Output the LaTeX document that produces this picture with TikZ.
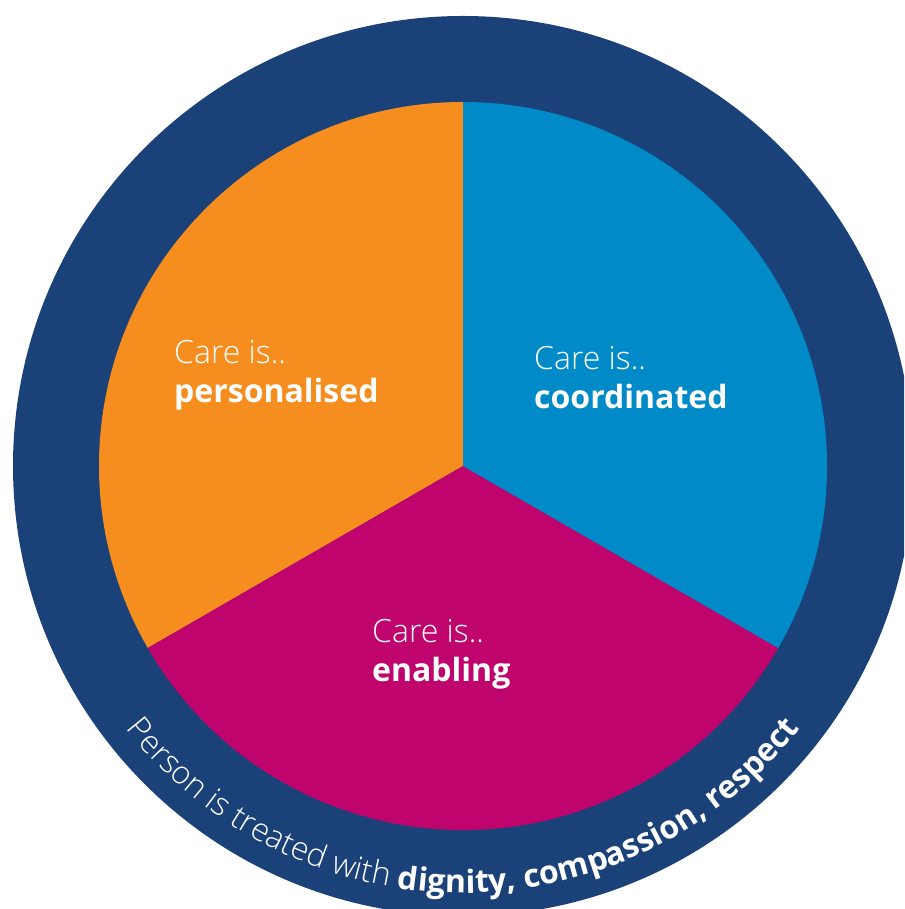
\documentclass[tikz,border=0pt]{standalone}
\usepackage{fontspec}
\setmainfont{Open Sans}
\IfFontExistsTF{Open Sans Light}{\newfontfamily\lightfont{Open Sans Light}}{\newfontfamily\lightfont{Open Sans}}
\usetikzlibrary{calc,math,decorations.text}

\definecolor{bandblue}{HTML}{1A4279}
\definecolor{careorange}{HTML}{F68D1F}
\definecolor{careblue}{HTML}{008AC8}
\definecolor{caremagenta}{HTML}{C0046E}

\begin{document}
\begin{tikzpicture}[x=1pt, y=1pt,
    light/.style={anchor=base west, inner sep=0pt, text=white, font=\lightfont\fontsize{32}{38}\selectfont},
    heavy/.style={anchor=base west, inner sep=0pt, text=white, font=\bfseries\fontsize{32}{38}\selectfont}]
            \tikzmath{\R = 450; \r = 364; \lead = 39; \rt = 427;}
            \useasboundingbox (0,0) rectangle (904,909);
            \clip (0,0) rectangle (904,909);
            \coordinate (c) at (463,443);

            \fill[bandblue] (c) circle[radius=\R];
            \foreach \a/\col in {90/careorange, 210/caremagenta, -30/careblue}
                \fill[\col] (c) -- ++(\a:\r) arc[start angle=\a, delta angle=120, radius=\r] -- cycle;

            \node[light] (care1) at (174,545) {Care is..};
            \node[heavy] (pers) at ([yshift=-\lead]care1.base west) {personalised};
            \node[light] (care2) at (534,539) {Care is..};
            \node[heavy] (coord) at ([yshift=-\lead]care2.base west) {coordinated};
            \node[light] (care3) at (372,266) {Care is..};
            \node[heavy] (enab) at ([yshift=-\lead]care3.base west) {enabling};

            \path[decorate, decoration={text along path, text align=center, text color=white,
                text format delimiters={|}{|},
                text={|\lightfont\fontsize{32}{32}\selectfont|Person is treated with |\bfseries\fontsize{32}{32}\selectfont|dignity, compassion, respect}}]
                ($(c)+(200:\rt)$) arc[start angle=200, end angle=340, radius=\rt];
        \end{tikzpicture}
\end{document}
